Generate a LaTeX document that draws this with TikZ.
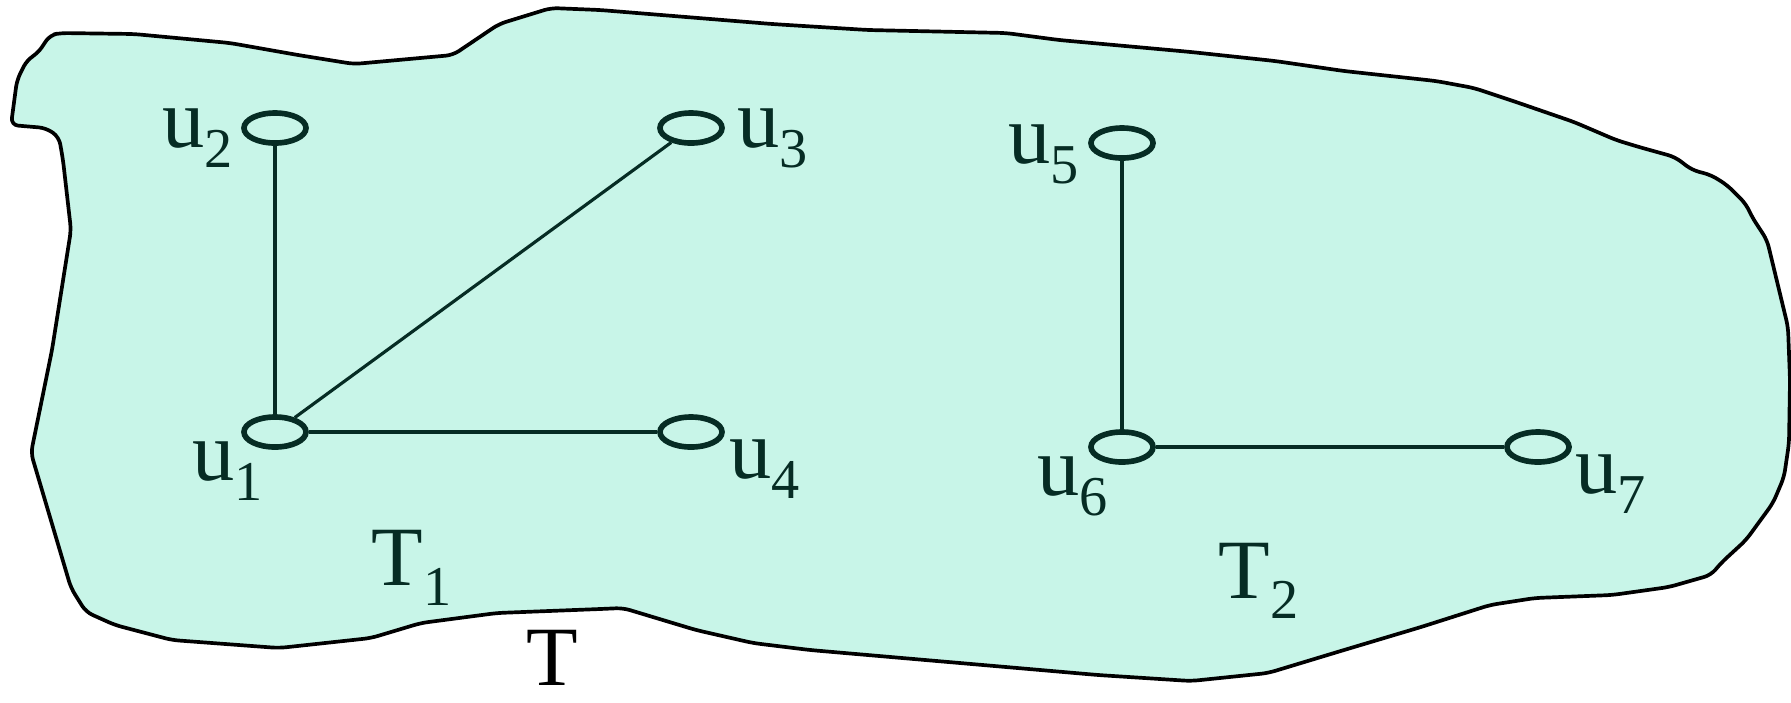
\documentclass[tikz,border=0pt]{standalone}
\usepackage{fontspec}
\setmainfont{Liberation Serif}
\usepackage{tikz}
\usetikzlibrary{shapes.geometric}
\definecolor{sea}{RGB}{200,245,232}
\definecolor{ink}{RGB}{6,44,36}
\newcommand{\lowsub}[1]{\raisebox{-5.8pt}{\fontsize{16}{16}\selectfont #1}}
\begin{document}
\begin{tikzpicture}[
    x=0.01cm, y=-0.01cm,
    region/.style={draw=black, line width=1.05pt, fill=sea, line join=round, rounded corners=2pt},
    vertex/.style={ellipse, draw=ink, line width=1.6pt, minimum width=0.62cm, minimum height=0.30cm, inner sep=0},
    branch/.style={draw=ink, line width=0.9pt},
    lbl/.style={anchor=base west, inner sep=0, text=ink, font=\fontsize{24}{28}\selectfont},
    every node/.style={font=\fontsize{24}{28}\selectfont}
]
\useasboundingbox (0,0) rectangle (1791,702);
\draw[region] (11,125) -- (17,80) -- (27,60) -- (38,53) -- (50,35) -- (61,33)
    -- (134,34) -- (230,43) -- (298,55) -- (354,64) -- (453,55) -- (499,24)
    -- (551,8) -- (600,10) -- (772,24) -- (868,30) -- (1006,33) -- (1059,40)
    -- (1191,52) -- (1275,61) -- (1344,71) -- (1436,81) -- (1474,88)
    -- (1516,102) -- (1574,122) -- (1616,140) -- (1639,147) -- (1675,157)
    -- (1692,170) -- (1711,175) -- (1727,185) -- (1746,204) -- (1752,217)
    -- (1767,240) -- (1788,327) -- (1790,380) -- (1789,443) -- (1784,477)
    -- (1773,503) -- (1746,540) -- (1721,563) -- (1711,575) -- (1669,587)
    -- (1612,595) -- (1535,598) -- (1490,605) -- (1421,627) -- (1344,650)
    -- (1268,673) -- (1191,681) -- (1098,675) -- (983,665) -- (810,650)
    -- (753,643) -- (696,630) -- (623,608) -- (600,609) -- (497,613)
    -- (421,623) -- (371,638) -- (279,648) -- (172,640) -- (115,625)
    -- (86,612) -- (71,588) -- (31,453) -- (52,350) -- (71,230) -- (63,160)
    -- (59,137) -- (46,128) -- cycle;
\node[vertex] (u1) at (275,432) {};
\node[vertex] (u2) at (275,128) {};
\node[vertex] (u3) at (691,128) {};
\node[vertex] (u4) at (691,432) {};
\node[vertex] (u5) at (1122,143) {};
\node[vertex] (u6) at (1122,447) {};
\node[vertex] (u7) at (1538,447) {};
\draw[branch] (u2) -- (u1);
\draw[branch] (u1) -- (u3);
\draw[branch] (u1) -- (u4);
\draw[branch] (u5) -- (u6);
\draw[branch] (u6) -- (u7);
\node[lbl] (l1) at (192,480) {u\lowsub{1}};
\node[lbl] (l2) at (162,147) {u\lowsub{2}};
\node[lbl] (l3) at (737,147) {u\lowsub{3}};
\node[lbl] (l4) at (729,478) {u\lowsub{4}};
\node[lbl] (l5) at (1008,163) {u\lowsub{5}};
\node[lbl] (l6) at (1037,495) {u\lowsub{6}};
\node[lbl] (l7) at (1575,493) {u\lowsub{7}};
\node[lbl] (t1) at (371,585) {T\lowsub{1}};
\node[lbl] (t2) at (1218,598) {T\lowsub{2}};
\node[lbl, text=black] (t) at (526,685) {T};
\end{tikzpicture}
\end{document}
